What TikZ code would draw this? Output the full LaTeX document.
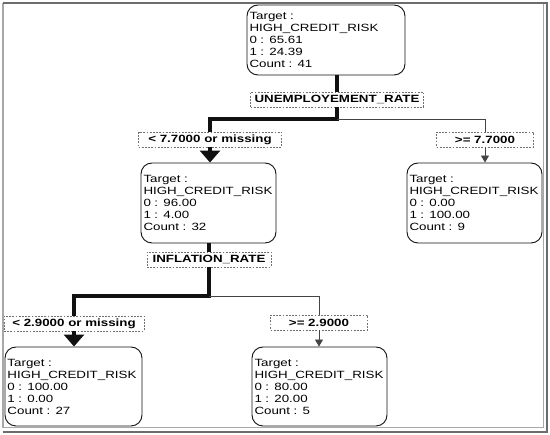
\documentclass[tikz,border=0pt]{standalone}
\usepackage{fontspec}
\usepackage{tikz}
\usetikzlibrary{arrows.meta}
\newfontfamily\treefont[FakeStretch=1.27]{Liberation Sans}
\definecolor{edge}{HTML}{111111}
\definecolor{wire}{HTML}{444444}
\definecolor{dashgray}{HTML}{707070}
\definecolor{frame}{HTML}{A8A8A8}
\definecolor{frameshade}{HTML}{6C6C6C}
\tikzset{
  treenode/.style={draw=edge, fill=white, rounded corners=11pt, line width=0.9pt,
                   align=left, inner xsep=2.5pt, inner ysep=0pt,
                   font=\treefont\fontsize{10.5}{12}\selectfont},
  splitlabel/.style={draw=dashgray, fill=white, dash pattern=on 1.8pt off 1.4pt,
                     line width=0.8pt, align=center, inner sep=0pt, minimum height=15pt,
                     font=\treefont\bfseries\fontsize{10.5}{12}\selectfont},
  thickedge/.style={line width=3.2pt, draw=edge},
  thinedge/.style={line width=0.9pt, draw=wire},
  thickarrow/.style={thickedge, -{Triangle[width=20pt,length=12pt]}},
  thinarrow/.style={thinedge, -{Triangle[width=8pt,length=7pt]}}
}

\begin{document}
\begin{tikzpicture}[x=1pt,y=-1pt]
        \useasboundingbox (0,0) rectangle (550,435);
        % frame
        \draw[draw=frame,line width=1pt] (543,4) -- (543,428) -- (3,428);
        \draw[draw=frame,line width=1.2pt] (3,428) -- (3,3);
        \draw[draw=frameshade,line width=1.2pt] (3,3) -- (547,3) -- (547,432) -- (3,432);

        % root
        \node[treenode,text width=153pt,minimum height=70pt] (root) at (326,40)
          {Target :\\HIGH\_CREDIT\_RISK\\0 : 65.61\\1 : 24.39\\Count : 41};
        \node[splitlabel,minimum width=173pt] (unemp) at (337,99.5) {UNEMPLOYEMENT\_RATE};
        \coordinate (split1) at (337,119);
        \draw[thickedge] (root.south -| unemp.north) -- (unemp.north);

        % first level
        \node[splitlabel,minimum width=143pt] (lt77) at (210,139.5) {< 7.7000 or missing};
        \node[splitlabel,minimum width=97pt]  (ge77) at (485,139.5) {>= 7.7000};
        \draw[thickedge] (unemp.south) -- (split1) -| (lt77.north);
        \draw[thinedge]  (split1) -| (ge77.north);
        \node[treenode,text width=130pt,minimum height=80pt] (lowunemp) at (208.5,203)
          {Target :\\HIGH\_CREDIT\_RISK\\0 : 96.00\\1 : 4.00\\Count : 32};
        \node[treenode,text width=130pt,minimum height=80pt] (highunemp) at (474.5,203)
          {Target :\\HIGH\_CREDIT\_RISK\\0 : 0.00\\1 : 100.00\\Count : 9};
        \draw[thickarrow] (lt77.south) -- (lt77.south |- lowunemp.north);
        \draw[thinarrow]  (ge77.south) -- (ge77.south |- highunemp.north);

        % second level
        \node[splitlabel,minimum width=124pt] (infl) at (209,259.5) {INFLATION\_RATE};
        \coordinate (split2) at (209,296);
        \draw[thickedge] (lowunemp.south -| infl.north) -- (infl.north);
        \node[splitlabel,minimum width=140pt] (lt29) at (74,323.5) {< 2.9000 or missing};
        \node[splitlabel,minimum width=97pt]  (ge29) at (319,322.5) {>= 2.9000};
        \draw[thickedge] (infl.south) -- (split2) -| (lt29.north);
        \draw[thinedge]  (split2) -| (ge29.north);
        \node[treenode,text width=132pt,minimum height=79pt] (lowinfl) at (73.5,386.5)
          {Target :\\HIGH\_CREDIT\_RISK\\0 : 100.00\\1 : 0.00\\Count : 27};
        \node[treenode,text width=130pt,minimum height=79pt] (highinfl) at (319.5,386.5)
          {Target :\\HIGH\_CREDIT\_RISK\\0 : 80.00\\1 : 20.00\\Count : 5};
        \draw[thickarrow] (lt29.south) -- (lt29.south |- lowinfl.north);
        \draw[thinarrow]  (ge29.south) -- (ge29.south |- highinfl.north);
      \end{tikzpicture}
\end{document}
